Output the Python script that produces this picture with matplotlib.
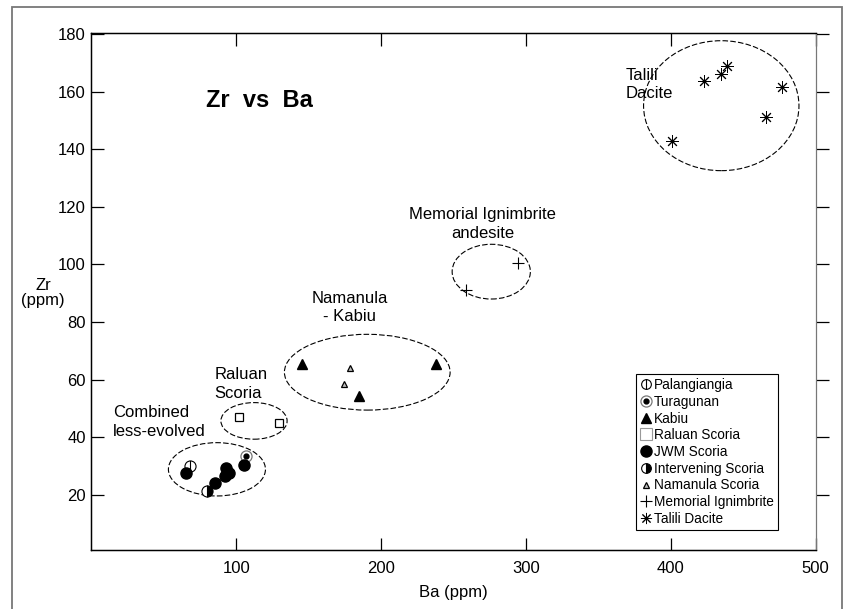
import numpy as np
import matplotlib
matplotlib.use('Agg')
import matplotlib.pyplot as plt
from matplotlib.patches import Ellipse, Rectangle
from matplotlib.path import Path
from matplotlib.lines import Line2D
from matplotlib.legend_handler import HandlerTuple

plt.rcParams['font.family'] = ['Liberation Sans', 'DejaVu Sans']

# sample data, Ba and Zr in ppm
palang_ba = [68]
palang_zr = [30]
tur_ba = [107]
tur_zr = [33.5]
kabiu_ba = [145, 185, 238]
kabiu_zr = [65.5, 54.5, 65.5]
raluan_ba = [102, 129.5]
raluan_zr = [47, 45]
jwm_ba = [65.5, 85, 92, 93, 95, 105]
jwm_zr = [27.5, 24, 26.5, 29.5, 27.5, 30.5]
interv_ba = [80]
interv_zr = [21.5]
naman_ba = [174.5, 178.5]
naman_zr = [58.5, 64]
memorial_ba = [258.5, 294.5]
memorial_zr = [91, 100.5]
talili_ba = [400.5, 423, 434.5, 439, 466, 476.5]
talili_zr = [143, 163.5, 166, 169, 151, 161.5]

# group outlines: (Ba centre, Zr centre, Ba width, Zr height)
groups = [(86.6, 28.9, 67, 18.5),
          (112.2, 45.7, 45.7, 12.7),
          (190.4, 62.6, 114.4, 26.3),
          (276, 97.5, 54, 19),
          (434.8, 155.1, 107.3, 45.1)]

xticks = [100, 200, 300, 400, 500]
yticks = [20, 40, 60, 80, 100, 120, 140, 160, 180]

W, H = 845, 609
fig = plt.figure(figsize=(W/100, H/100), dpi=100)
ax = fig.add_axes([91.5/W, 1-549.7/H, (815.7-91.5)/W, (549.7-32.5)/H])
ax.set_xlim(0, 500)
ax.set_ylim(1, 180.5)

# outer frame round the whole figure
fig.add_artist(Rectangle((12/W, -0.02), (842-12)/W, 1-7/H+0.02, transform=fig.transFigure,
                         fill=False, edgecolor='#777777', lw=1.3))

for e in groups:
    ax.add_patch(Ellipse((e[0], e[1]), e[2], e[3], fill=False, edgecolor='black',
                         lw=0.8, linestyle=(0, (5, 2))))

# custom markers
circ_bar = Path.make_compound_path(Path.unit_circle(),
                                   Path([[0, -1], [0, 1]], [Path.MOVETO, Path.LINETO]))
tur_ring = dict(marker='o', ms=8, mfc='white', mec='#777777', mew=0.9, ls='none')
tur_dot = dict(marker='o', ms=3.5, mfc='black', mec='black', ls='none')

ax.plot(palang_ba, palang_zr, marker=circ_bar, ms=8, mfc='white', mec='black', mew=0.8, ls='none')
ax.plot(tur_ba, tur_zr, **tur_ring)
ax.plot(tur_ba, tur_zr, **tur_dot)
ax.plot(kabiu_ba, kabiu_zr, marker='^', ms=7, color='black', ls='none')
ax.plot(raluan_ba, raluan_zr, marker='s', ms=6, mfc='white', mec='black', mew=0.9, ls='none')
ax.plot(jwm_ba, jwm_zr, marker='o', ms=8, color='black', ls='none')
ax.plot(interv_ba, interv_zr, marker='o', ms=8, fillstyle='right', mfc='black',
        mfcalt='white', mec='black', mew=0.8, ls='none')
ax.plot(naman_ba, naman_zr, marker='^', ms=4.5, mfc='#bbbbbb', mec='black', mew=0.9, ls='none')
ax.plot(memorial_ba, memorial_zr, marker='+', ms=8, mew=0.8, color='black', ls='none')
ax.plot(talili_ba, talili_zr, marker=(8, 2, 0), ms=9, mew=0.7, color='black', ls='none')

# axes styling
for s in ['left', 'bottom', 'top']:
    ax.spines[s].set_linewidth(1.0)
ax.spines['right'].set_color('#777777')
ax.set_xticks(xticks)
ax.set_yticks(yticks)
ax.tick_params(axis='both', direction='in', length=9, width=0.9, labelsize=12,
               top=True, right=False)
ax.tick_params(axis='x', pad=8)
ax.tick_params(axis='y', pad=4)
ax2 = ax.twinx()
ax2.set_ylim(ax.get_ylim())
ax2.set_yticks(yticks)
ax2.tick_params(axis='y', direction='out', length=9, width=0.9, labelright=False)
ax2.spines['right'].set_color('#777777')

fig.text(43/W, 1-293/H, 'Zr\n(ppm)', ha='center', va='center', fontsize=12, linespacing=0.95)
fig.text(453/W, 1-592/H, 'Ba (ppm)', ha='center', va='center', fontsize=12)

ls = 1.3
ax.text(79, 156.8, 'Zr  vs  Ba', fontsize=17, fontweight='bold', ha='left', va='center')
ax.text(368.5, 162.5, 'Talili\nDacite', fontsize=12, ha='left', va='center', linespacing=ls)
ax.text(270, 114, 'Memorial Ignimbrite\nandesite', fontsize=12, ha='center', va='center', linespacing=ls)
ax.text(178, 85, 'Namanula\n- Kabiu', fontsize=12, ha='center', va='center', linespacing=ls)
ax.text(84.8, 58.5, 'Raluan\nScoria', fontsize=12, ha='left', va='center', linespacing=ls)
ax.text(14.9, 45.4, 'Combined\nless-evolved', fontsize=12, ha='left', va='center', linespacing=ls)

handles = [
    Line2D([], [], marker=circ_bar, ms=7, mfc='white', mec='black', mew=0.8, ls='none'),
    (Line2D([], [], **tur_ring), Line2D([], [], **tur_dot)),
    Line2D([], [], marker='^', ms=7, color='black', ls='none'),
    Line2D([], [], marker='s', ms=8, mfc='white', mec='#999999', mew=0.8, ls='none'),
    Line2D([], [], marker='o', ms=8, color='black', ls='none'),
    Line2D([], [], marker='o', ms=7, fillstyle='right', mfc='black', mfcalt='white',
           mec='black', mew=0.8, ls='none'),
    Line2D([], [], marker='^', ms=4.5, mfc='#bbbbbb', mec='black', mew=0.9, ls='none'),
    Line2D([], [], marker='+', ms=8, mew=0.8, color='black', ls='none'),
    Line2D([], [], marker=(8, 2, 0), ms=8, mew=0.7, color='black', ls='none'),
]
labels = ['Palangiangia', 'Turagunan', 'Kabiu', 'Raluan Scoria', 'JWM Scoria',
          'Intervening Scoria', 'Namanula Scoria', 'Memorial Ignimbrite', 'Talili Dacite']
leg = ax.legend(handles, labels, loc='upper left', bbox_to_anchor=(636/W, 1-374/H),
                bbox_transform=fig.transFigure, borderaxespad=0, fontsize=9.8,
                handlelength=0.8, handletextpad=0.2, borderpad=0.3, labelspacing=0.2,
                fancybox=False, framealpha=1, edgecolor='black',
                handler_map={tuple: HandlerTuple(ndivide=1, pad=0)})
leg.get_frame().set_linewidth(0.8)
leg.set_zorder(5)

fig.savefig('out.png', dpi=100)
